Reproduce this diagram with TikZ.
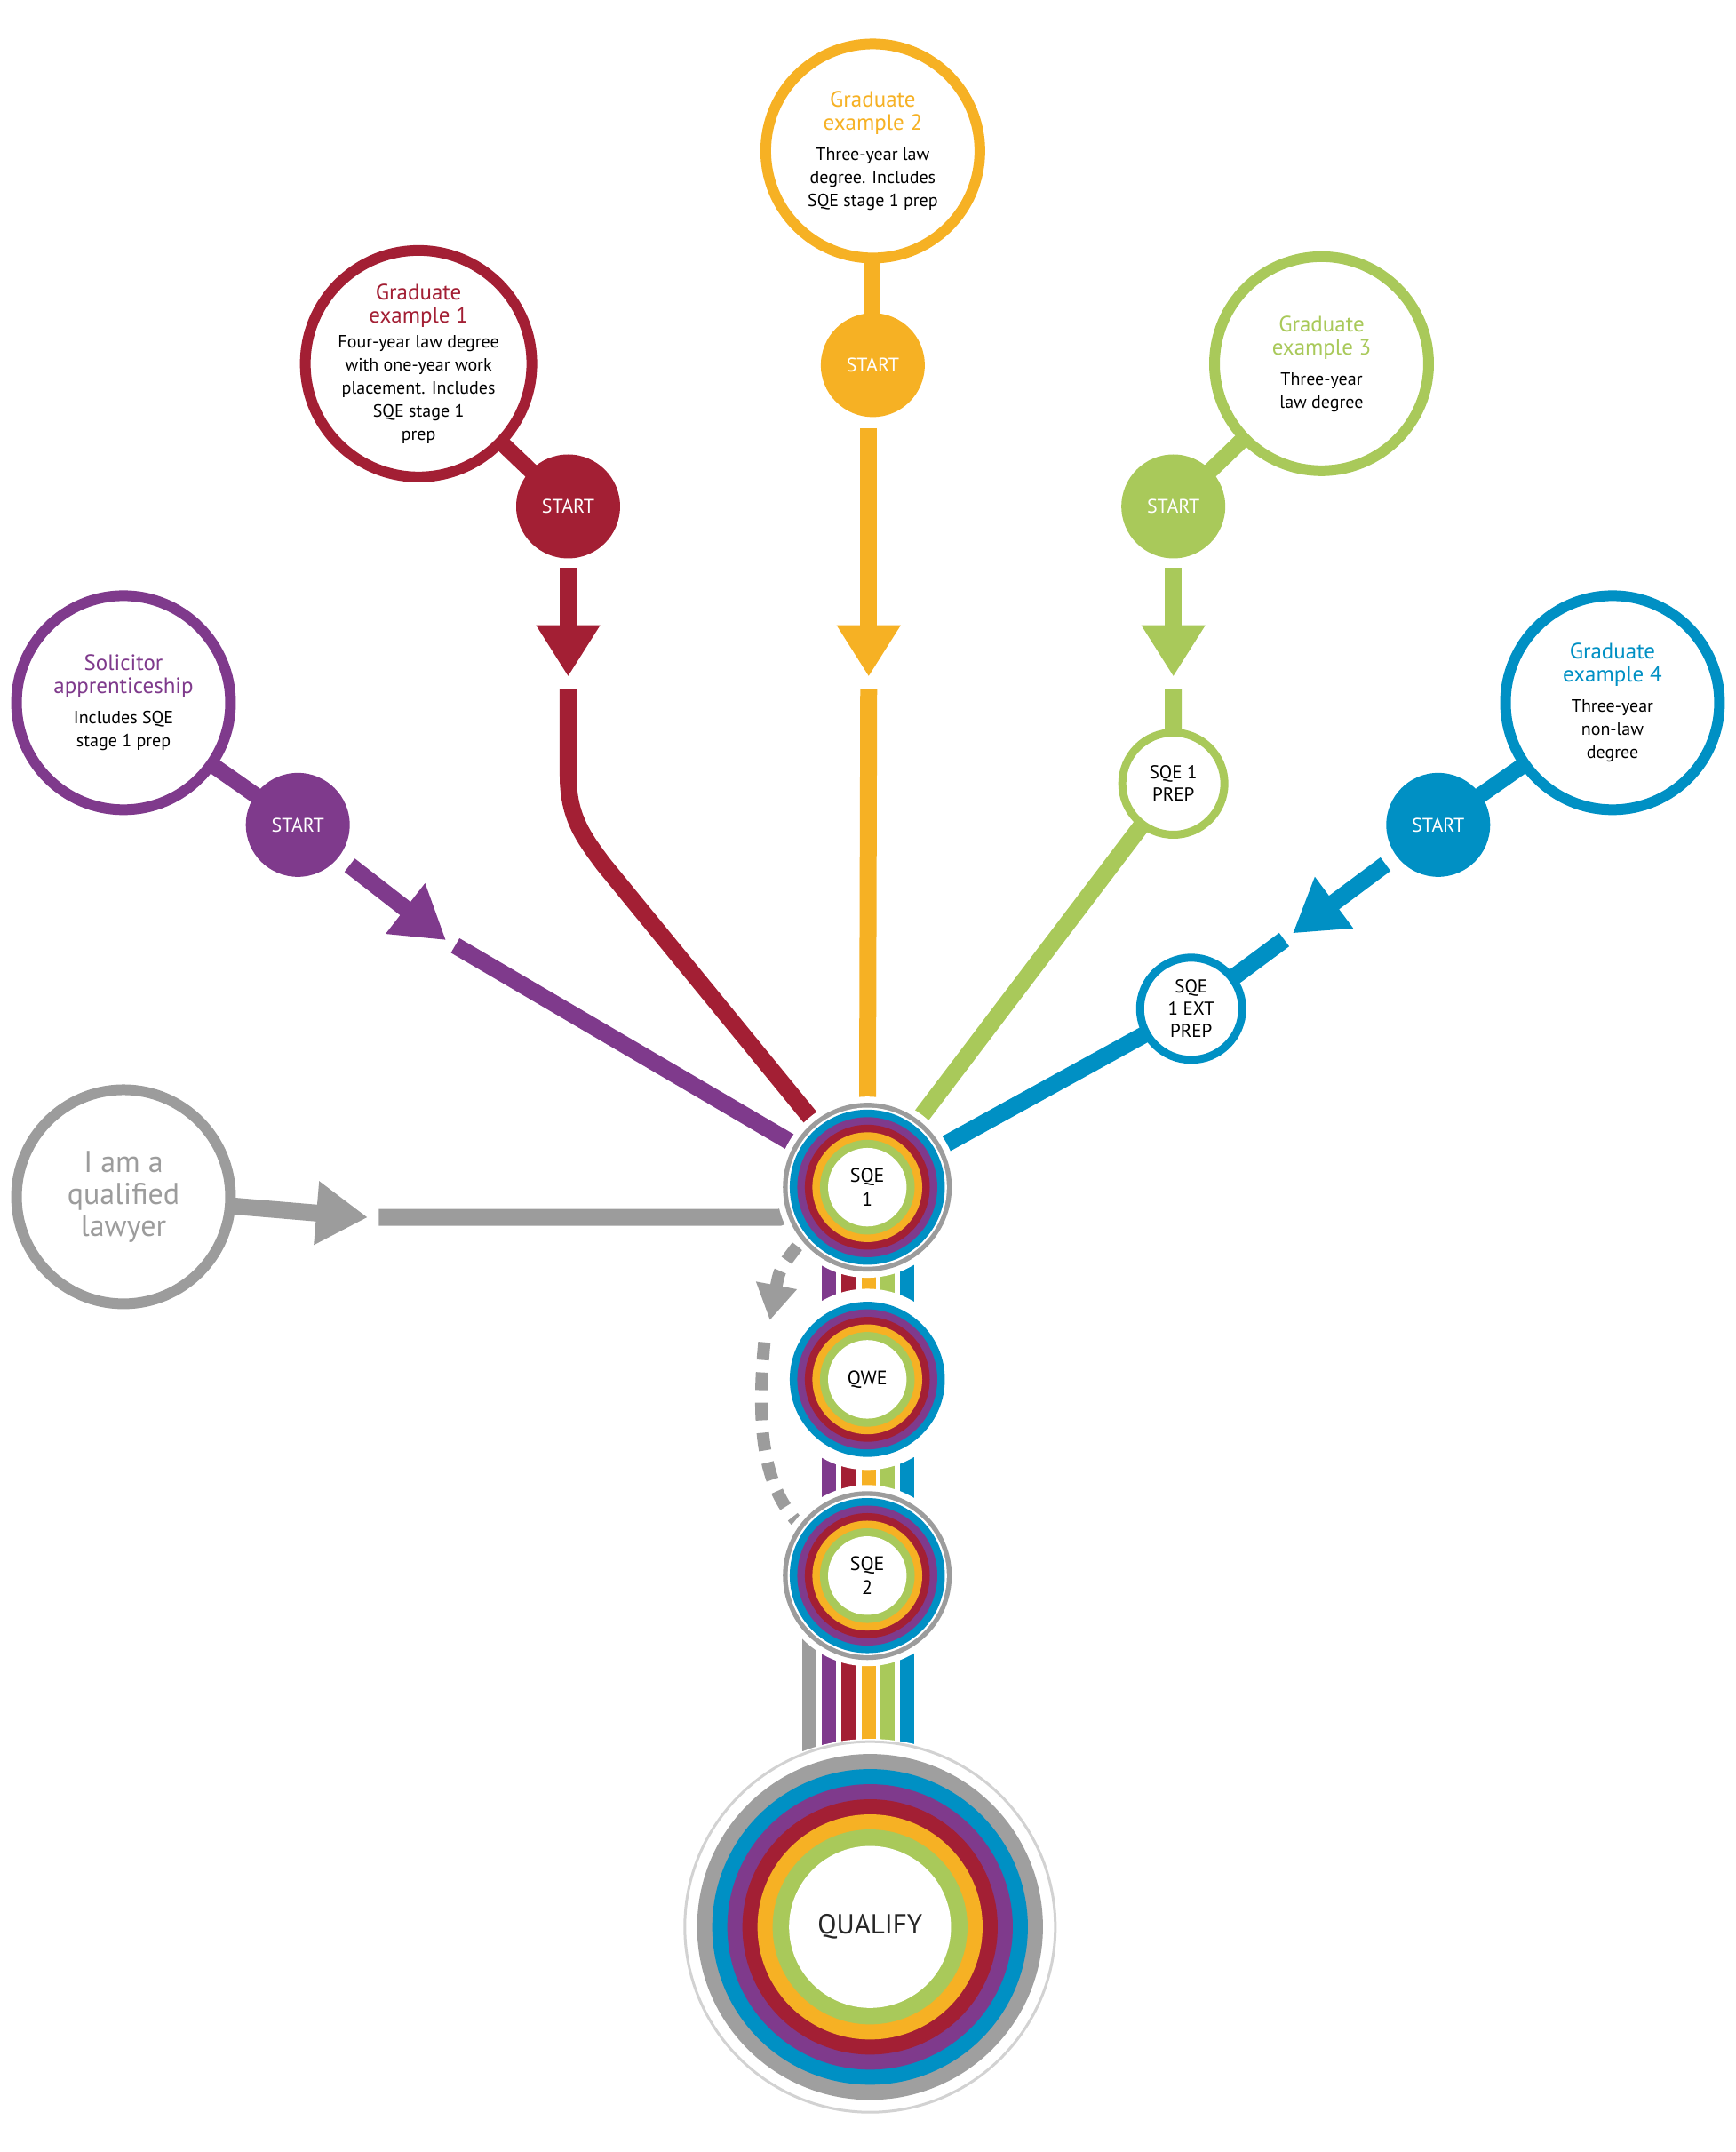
\documentclass[tikz,border=0pt]{standalone}
\usepackage{fontspec}
\setmainfont{PT Sans}
\usetikzlibrary{arrows.meta,calc}
\definecolor{cpur}{HTML}{7F3A8C}
\definecolor{cred}{HTML}{A31F34}
\definecolor{cora}{HTML}{F6B124}
\definecolor{cgrn}{HTML}{A9C95A}
\definecolor{cblu}{HTML}{0090C4}
\definecolor{cgry}{HTML}{9C9C9C}
\newcommand{\ttlline}[2]{\textcolor{#1}{\fontsize{25}{30}\selectfont #2}}
\tikzset{
  bigc/.style={circle,fill=white,line width=12pt,minimum size=241pt,inner sep=0pt,align=center,font=\fontsize{20}{26}\selectfont},
  startc/.style={circle,fill=#1,minimum size=117pt,inner sep=0pt,text=white,font=\fontsize{22}{26}\selectfont},
  prepc/.style={circle,fill=white,draw=#1,line width=9pt,minimum size=115pt,inner sep=0pt,align=center,font=\fontsize{21}{25}\selectfont},
  stub/.style={line width=18pt,#1},
  path/.style={line width=19pt,#1},
  arr/.style={line width=19pt,#1,-{Triangle[length=58pt,width=68pt]}},
  bar/.style={line width=16pt,#1},
}
\newcommand{\rings}[2]{%
  \fill[white] (#1) circle (66);
  \ifnum#2=1 \fill[cgry] (#1) circle (61.5); \fill[white] (#1) circle (58);\fi
  \fill[cblu] (#1) circle (56.5);
  \fill[cpur] (#1) circle (51);
  \fill[cred] (#1) circle (45.5);
  \fill[cora] (#1) circle (40);
  \fill[cgrn] (#1) circle (34.5);
  \fill[white] (#1) circle (28.6);
}
\begin{document}
\begin{tikzpicture}[x=1.545pt,y=-1.545pt]
\useasboundingbox (0,0) rectangle (1265,1568);
% centres
\coordinate (sol) at (90,512);
\coordinate (g1) at (305,265);
\coordinate (g2) at (636,110);
\coordinate (g3) at (963,265);
\coordinate (g4) at (1175,512);
\coordinate (law) at (90,872);
\coordinate (s0) at (217,601);
\coordinate (s1) at (414,369);
\coordinate (s2) at (636,266);
\coordinate (s3) at (855,369);
\coordinate (s4) at (1048,601);
\coordinate (prep) at (855,571);
\coordinate (ext) at (868,735);
\coordinate (sqe1) at (632,865);
\coordinate (qwe) at (632,1005);
\coordinate (sqe2) at (632,1148);
\coordinate (qual) at (634,1404);
\coordinate (t0) at (325,685);
\coordinate (t1) at (414,493);
\coordinate (t2) at (633,493);
\coordinate (t3) at (855,493);
\coordinate (t4) at (942,680);
\coordinate (t5) at (268,887);

% stubs
\draw[stub=cpur] (sol) -- (s0);
\draw[stub=cred] (g1) -- (s1);
\draw[stub=cora] (g2) -- (s2);
\draw[stub=cgrn] (g3) -- (s3);
\draw[stub=cblu] (g4) -- (s4);

% main paths
\draw[path=cpur] ($(t0)!12pt!(sqe1)$) -- (sqe1);
\draw[arr=cpur] ($(s0)!74pt!(t0)$) -- (t0);
\draw[path=cred] (414,502) -- (414,565) .. controls (414,595) and (425,610) .. (440,630) -- (sqe1);
\draw[arr=cred] (414,414) -- (t1);
\draw[path=cora] (633,502) -- (sqe1);
\draw[arr=cora] (633,312) -- (t2);
\draw[path=cgrn] (855,502) -- (prep) -- (sqe1);
\draw[arr=cgrn] (855,414) -- (t3);
\draw[path=cblu] ($(t4)!12pt!(ext)$) -- (ext) -- (sqe1);
\draw[arr=cblu] ($(s4)!74pt!(t4)$) -- (t4);
\draw[path=cgry] (276,887) -- (568,887) -- (sqe1);
\draw[arr=cgry] (law) -- (t5);

% bars
\foreach \x/\c in {604/cpur,618/cred,633/cora,647/cgrn,661/cblu}{
  \draw[bar=\c] (\x,865) -- (\x,1148);
  \draw[bar=\c] (\x,1148) -- (\x,1330);
}
\draw[bar=cgry] (590,1148) -- (590,1330);

% dashed skip
\draw[line width=14pt,cgry,dash pattern=on 20pt off 14pt,-{Triangle[length=40pt,width=44pt]}] (581,908) .. controls (568,925) .. (561,962);
\draw[line width=14pt,cgry,dash pattern=on 20pt off 14pt] (557,978) .. controls (550,1050) and (560,1085) .. (580,1108);

% ring nodes
\rings{sqe1}{1}
\rings{qwe}{0}
\rings{sqe2}{1}
\node[font=\fontsize{22}{27}\selectfont,align=center] (nsqe1) at (sqe1) {SQE\\1};
\node[font=\fontsize{22}{27}\selectfont] (nqwe) at (qwe) {QWE};
\node[font=\fontsize{22}{27}\selectfont,align=center] (nsqe2) at (sqe2) {SQE\\2};

% qualify
\fill[white] (qual) circle (137);
\draw[gray!35,line width=3pt] (qual) circle (135);
\fill[gray!75] (qual) circle (126);
\fill[cblu] (qual) circle (115);
\fill[cpur] (qual) circle (104);
\fill[cred] (qual) circle (93);
\fill[cora] (qual) circle (82);
\fill[cgrn] (qual) circle (71);
\fill[white] (qual) circle (59);
\node[font=\fontsize{31}{36}\selectfont,text=black!85] (nqual) at (qual) {QUALIFY};

% big circles
\node[bigc,draw=cpur] (nsol) at (sol) {\ttlline{cpur}{Solicitor}\\\ttlline{cpur}{apprenticeship}\\[8pt] Includes SQE\\stage 1 prep};
\node[bigc,draw=cred] (ng1) at (g1) {\ttlline{cred}{Graduate}\\\ttlline{cred}{example 1}\\[2pt] Four-year law degree\\with one-year work\\placement. Includes\\SQE stage 1\\prep};
\node[bigc,draw=cora] (ng2) at (g2) {\ttlline{cora}{Graduate}\\\ttlline{cora}{example 2}\\[8pt] Three-year law\\degree. Includes\\SQE stage 1 prep};
\node[bigc,draw=cgrn] (ng3) at (g3) {\ttlline{cgrn}{Graduate}\\\ttlline{cgrn}{example 3}\\[8pt] Three-year\\law degree};
\node[bigc,draw=cblu] (ng4) at (g4) {\ttlline{cblu}{Graduate}\\\ttlline{cblu}{example 4}\\[8pt] Three-year\\non-law\\degree};
\node[bigc,draw=cgry,text=cgry,font=\fontsize{34}{36}\selectfont] (nlaw) at (law) {I am a\\qualified\\lawyer};

% starts
\node[startc=cpur] (ns0) at (s0) {START};
\node[startc=cred] (ns1) at (s1) {START};
\node[startc=cora] (ns2) at (s2) {START};
\node[startc=cgrn] (ns3) at (s3) {START};
\node[startc=cblu] (ns4) at (s4) {START};
\node[prepc=cgrn] (nprep) at (prep) {SQE 1\\PREP};
\node[prepc=cblu] (next) at (ext) {SQE\\1 EXT\\PREP};
\end{tikzpicture}
\end{document}
